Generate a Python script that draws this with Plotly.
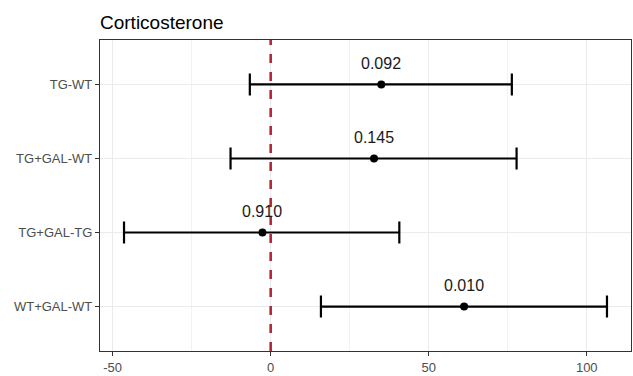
import plotly.graph_objects as go

categories = ["TG-WT", "TG+GAL-WT", "TG+GAL-TG", "WT+GAL-WT"]
estimates = [35.0, 32.7, -2.6, 61.2]
lower = [-6.6, -12.7, -46.4, 15.9]
upper = [76.3, 77.8, 40.7, 106.4]
p_labels = ["0.092", "0.145", "0.910", "0.010"]
x_ticks = [-50, 0, 50, 100]

FONT = "Liberation Sans, Arial, sans-serif"

fig = go.Figure()

fig.add_trace(go.Scatter(
    x=estimates,
    y=categories,
    mode="markers",
    marker=dict(size=8, color="black"),
    error_x=dict(
        type="data",
        symmetric=False,
        array=[u - e for u, e in zip(upper, estimates)],
        arrayminus=[e - l for e, l in zip(estimates, lower)],
        color="black",
        thickness=2.2,
        width=11,
    ),
    showlegend=False,
    hoverinfo="skip",
))

for x, y, t in zip(estimates, categories, p_labels):
    fig.add_annotation(
        x=x, y=y, text=t, showarrow=False, yshift=21,
        font=dict(family=FONT, size=16, color="#1a1a1a"),
        xanchor="center", yanchor="middle",
    )

fig.add_shape(
    type="line", xref="x", yref="y domain", x0=0, x1=0, y0=0, y1=1,
    line=dict(color="#b0283a", width=2.6, dash="dash"),
    layer="above",
)

fig.update_layout(
    width=633, height=376,
    margin=dict(l=100, r=1, t=40, b=21),
    paper_bgcolor="white",
    plot_bgcolor="white",
    title=dict(
        text="Corticosterone",
        x=0, xref="paper", xanchor="left",
        y=1 - 22 / 376, yref="container", yanchor="middle",
        font=dict(family=FONT, size=19, color="black"),
    ),
    xaxis=dict(
        range=[-54.0, 114.0],
        tickvals=x_ticks,
        ticktext=[str(v) for v in x_ticks],
        showgrid=True, gridcolor="#ebebeb", gridwidth=1,
        minor=dict(dtick=25, tick0=-25, showgrid=True, gridcolor="#f2f2f2", gridwidth=1, ticks=""),
        zeroline=False,
        showline=True, linecolor="#333333", linewidth=1.2, mirror=True,
        ticks="outside", ticklen=4, tickcolor="#333333", tickwidth=1,
        tickfont=dict(family=FONT, size=13, color="#4d4d4d"),
    ),
    yaxis=dict(
        type="category",
        categoryorder="array", categoryarray=categories,
        range=[3.6, -0.6],
        showgrid=True, gridcolor="#ebebeb", gridwidth=1,
        zeroline=False,
        showline=True, linecolor="#333333", linewidth=1.2, mirror=True,
        ticks="outside", ticklen=4, tickcolor="#333333", tickwidth=1,
        tickfont=dict(family=FONT, size=13, color="#4d4d4d"),
    ),
)

fig.write_html("out.html")
